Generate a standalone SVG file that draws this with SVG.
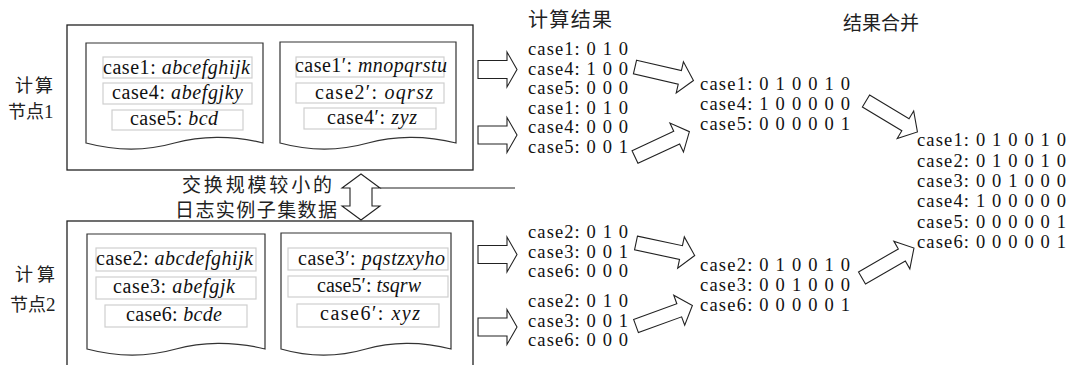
<svg xmlns="http://www.w3.org/2000/svg" width="1069" height="365" viewBox="0 0 1069 365">
<defs>
<style>
.bg{fill:#fff}
.outer{fill:none;stroke:#222;stroke-width:1.3}
.doc{fill:#fff;stroke:#333;stroke-width:1.2}
.row{fill:#fff;stroke:#cfcfcf;stroke-width:1.2}
.t{font-family:"Liberation Serif","Tinos","Times New Roman","DejaVu Serif",serif;font-size:20px;fill:#111}
.r{font-size:18.5px}
.it{font-style:italic}
.cn{font-family:"Noto Sans CJK SC","Noto Sans CJK JP",sans-serif;font-size:18px;fill:#222}
.arr{fill:#fff;stroke:#222;stroke-width:1.1;stroke-linejoin:miter}
.ln{fill:none;stroke:#222;stroke-width:1.1}
</style>
<path id="harrow" d="M0,-9 H29 V-17.5 L39,0 L29,17.5 V9 H0 Z"/>
<path id="darrow" d="M0,-7 H46 V-16 L60,0 L46,16 V7 H0 Z"/>
</defs>
<rect class="bg" x="0" y="0" width="1069" height="365"/>

<g id="compute-node-1">
<rect class="outer" x="67" y="25" width="406" height="145"/>
<text class="cn" x="15" y="92" textLength="38" lengthAdjust="spacing">计算</text>
<text class="cn" x="8" y="118">节点<tspan font-family="Liberation Serif, serif" style="font-size:19px">1</tspan></text>
</g>
<g id="log-doc-1a">
<path class="doc" d="M86,43 H263 V143 C232,135 200,136 174.5,143 C150,150 120,152 86,143 Z"/>
<rect class="row" x="103" y="57" width="149" height="21"/>
<rect class="row" x="103" y="83" width="149" height="21"/>
<rect class="row" x="112" y="110" width="131" height="20"/>
<text class="t" x="103" y="74" textLength="147" lengthAdjust="spacing">case1: <tspan class="it">abcefghijk</tspan></text>
<text class="t" x="112" y="99" textLength="131" lengthAdjust="spacing">case4: <tspan class="it">abefgjky</tspan></text>
<text class="t" x="130" y="125" textLength="88" lengthAdjust="spacing">case5: <tspan class="it">bcd</tspan></text>
</g>
<g id="log-doc-1b">
<path class="doc" d="M280,42 H456 V143 C425,135 393,136 368,143 C343,150 313,152 280,143 Z"/>
<rect class="row" x="296" y="57" width="148" height="20"/>
<rect class="row" x="296" y="83" width="148" height="20"/>
<rect class="row" x="304" y="108" width="132" height="21"/>
<text class="t" x="295" y="72" textLength="152" lengthAdjust="spacing">case1′: <tspan class="it">mnopqrstu</tspan></text>
<text class="t" x="315" y="99" textLength="118" lengthAdjust="spacing">case2′: <tspan class="it">oqrsz</tspan></text>
<text class="t" x="327" y="124" textLength="90" lengthAdjust="spacing">case4′: <tspan class="it">zyz</tspan></text>
</g>

<g id="exchange-label">
<text class="cn" x="182" y="192" textLength="150" lengthAdjust="spacing" style="font-size:19px">交换规模较小的</text>
<text class="cn" x="175" y="217" textLength="162" lengthAdjust="spacing" style="font-size:19px">日志实例子集数据</text>
</g>

<g id="compute-node-2">
<rect class="outer" x="67" y="221" width="406" height="160"/>
<text class="cn" x="15" y="281" textLength="40" lengthAdjust="spacing">计算</text>
<text class="cn" x="10" y="311">节点<tspan font-family="Liberation Serif, serif" style="font-size:19px">2</tspan></text>
</g>
<g id="log-doc-2a">
<path class="doc" d="M87,234 H265 V349 C233,341 201,342 176,349 C151,356 121,358 87,349 Z"/>
<rect class="row" x="96" y="248" width="160" height="23"/>
<rect class="row" x="96" y="277" width="160" height="22"/>
<rect class="row" x="105" y="305" width="142" height="22"/>
<text class="t" x="96" y="265" textLength="157" lengthAdjust="spacing">case2: <tspan class="it">abcdefghijk</tspan></text>
<text class="t" x="113" y="293" textLength="122" lengthAdjust="spacing">case3: <tspan class="it">abefgjk</tspan></text>
<text class="t" x="126" y="321" textLength="96" lengthAdjust="spacing">case6: <tspan class="it">bcde</tspan></text>
</g>
<g id="log-doc-2b">
<path class="doc" d="M281,233 H451 V349 C421,341 390,342 366,349 C342,356 312,358 281,349 Z"/>
<rect class="row" x="288" y="248" width="160" height="22"/>
<rect class="row" x="288" y="276" width="160" height="21"/>
<rect class="row" x="297" y="304" width="142" height="23"/>
<text class="t" x="298" y="265" textLength="147" lengthAdjust="spacing">case3′: <tspan class="it">pqstzxyho</tspan></text>
<text class="t" x="317" y="292" textLength="104" lengthAdjust="spacing">case5′: <tspan class="it">tsqrw</tspan></text>
<text class="t" x="320" y="320" textLength="100" lengthAdjust="spacing">case6′: <tspan class="it">xyz</tspan></text>
</g>

<g id="title-results">
<text class="cn" x="528" y="27" textLength="84" lengthAdjust="spacing" style="font-size:20px">计算结果</text>
</g>
<g id="title-merge">
<text class="cn" x="843" y="30" style="font-size:19px">结果合并</text>
</g>

<g id="result-1a">
<text class="t r" x="528" y="55" textLength="100" lengthAdjust="spacing">case1: 0 1 0</text>
<text class="t r" x="528" y="74.5" textLength="100" lengthAdjust="spacing">case4: 1 0 0</text>
<text class="t r" x="528" y="94" textLength="100" lengthAdjust="spacing">case5: 0 0 0</text>
</g>
<g id="result-1b">
<text class="t r" x="528" y="113.5" textLength="100" lengthAdjust="spacing">case1: 0 1 0</text>
<text class="t r" x="528" y="133" textLength="100" lengthAdjust="spacing">case4: 0 0 0</text>
<text class="t r" x="528" y="152.5" textLength="100" lengthAdjust="spacing">case5: 0 0 1</text>
</g>
<g id="result-2a">
<text class="t r" x="528" y="238" textLength="100" lengthAdjust="spacing">case2: 0 1 0</text>
<text class="t r" x="528" y="257.5" textLength="100" lengthAdjust="spacing">case3: 0 0 1</text>
<text class="t r" x="528" y="277" textLength="100" lengthAdjust="spacing">case6: 0 0 0</text>
</g>
<g id="result-2b">
<text class="t r" x="528" y="307" textLength="100" lengthAdjust="spacing">case2: 0 1 0</text>
<text class="t r" x="528" y="326.5" textLength="100" lengthAdjust="spacing">case3: 0 0 1</text>
<text class="t r" x="528" y="346" textLength="100" lengthAdjust="spacing">case6: 0 0 0</text>
</g>
<g id="merged-1">
<text class="t r" x="700" y="90" textLength="150" lengthAdjust="spacing">case1: 0 1 0 0 1 0</text>
<text class="t r" x="700" y="110" textLength="150" lengthAdjust="spacing">case4: 1 0 0 0 0 0</text>
<text class="t r" x="700" y="130" textLength="150" lengthAdjust="spacing">case5: 0 0 0 0 0 1</text>
</g>
<g id="merged-2">
<text class="t r" x="700" y="271" textLength="150" lengthAdjust="spacing">case2: 0 1 0 0 1 0</text>
<text class="t r" x="700" y="291" textLength="150" lengthAdjust="spacing">case3: 0 0 1 0 0 0</text>
<text class="t r" x="700" y="311" textLength="150" lengthAdjust="spacing">case6: 0 0 0 0 0 1</text>
</g>
<g id="final-merged">
<text class="t r" x="917" y="146" textLength="149" lengthAdjust="spacing">case1: 0 1 0 0 1 0</text>
<text class="t r" x="917" y="166.5" textLength="149" lengthAdjust="spacing">case2: 0 1 0 0 1 0</text>
<text class="t r" x="917" y="187" textLength="149" lengthAdjust="spacing">case3: 0 0 1 0 0 0</text>
<text class="t r" x="917" y="207" textLength="149" lengthAdjust="spacing">case4: 1 0 0 0 0 0</text>
<text class="t r" x="917" y="227.5" textLength="149" lengthAdjust="spacing">case5: 0 0 0 0 0 1</text>
<text class="t r" x="917" y="248" textLength="149" lengthAdjust="spacing">case6: 0 0 0 0 0 1</text>
</g>

<g id="connectors">
<use href="#harrow" class="arr" transform="translate(478,69.5)"/>
<use href="#harrow" class="arr" transform="translate(478,135)"/>
<use href="#harrow" class="arr" transform="translate(478,254.5)"/>
<use href="#harrow" class="arr" transform="translate(478,327)"/>
<use href="#darrow" class="arr" transform="translate(635,67) rotate(13)"/>
<use href="#darrow" class="arr" transform="translate(635,157) rotate(-25)"/>
<use href="#darrow" class="arr" transform="translate(636,243) rotate(12)"/>
<use href="#darrow" class="arr" transform="translate(636,326) rotate(-20)"/>
<use href="#darrow" class="arr" transform="translate(866,101) rotate(31)"/>
<use href="#darrow" class="arr" transform="translate(862,278) rotate(-30)"/>
<path class="arr" d="M361,174 L380,188 H372 V206 H380 L361,220 L342,206 H350 V188 H342 Z"/>
<path class="ln" d="M380,188 H515"/>
</g>
</svg>
